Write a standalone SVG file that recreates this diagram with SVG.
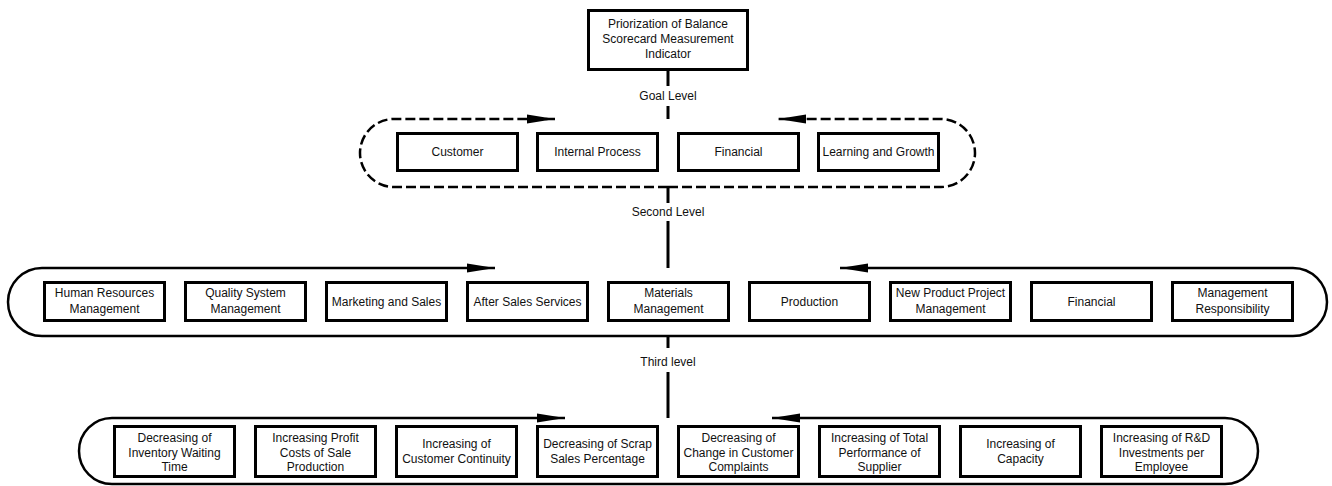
<svg xmlns="http://www.w3.org/2000/svg" width="1332" height="486" viewBox="0 0 1332 486">
<style>
.box{fill:#fff;stroke:#000;stroke-width:3}
.t{font-family:"Liberation Sans",Arial,sans-serif;font-size:12px;fill:#111;text-anchor:middle}
.ln{fill:none;stroke:#000;stroke-width:3}
.loop{fill:none;stroke:#000;stroke-width:2.5}
.dash{stroke-dasharray:10 4}
</style>
<defs>
<marker id="ah" markerUnits="userSpaceOnUse" markerWidth="30" markerHeight="10" refX="28" refY="5" orient="auto">
<path d="M0,0.5 L28,5 L0,9.5 z" fill="#000"/>
</marker>
</defs>
<rect width="1332" height="486" fill="#fff"/>
<g id="connectors">
<line class="ln" x1="668" y1="71" x2="668" y2="86"/>
<line class="ln" x1="668" y1="106" x2="668" y2="119"/>
<line class="ln" x1="668" y1="187" x2="668" y2="203"/>
<line class="ln" x1="668" y1="221" x2="668" y2="268"/>
<line class="ln" x1="668" y1="336" x2="668" y2="348"/>
<line class="ln" x1="668" y1="372" x2="668" y2="418"/>
<path class="loop dash" d="M668,187 H394 A34,34 0 0 1 394,119 H555" marker-end="url(#ah)"/>
<path class="loop dash" d="M668,187 H941 A34,34 0 0 0 941,119 H778" marker-end="url(#ah)"/>
<path class="loop" d="M668,336 H42 A34,34 0 0 1 42,268 H495" marker-end="url(#ah)"/>
<path class="loop" d="M668,336 H1293 A34,34 0 0 0 1293,268 H840" marker-end="url(#ah)"/>
<path class="loop" d="M668,484 H112 A33,33 0 0 1 112,418 H565" marker-end="url(#ah)"/>
<path class="loop" d="M668,484 H1225 A33,33 0 0 0 1225,418 H772" marker-end="url(#ah)"/>
<text class="t" x="668" y="100">Goal Level</text>
<text class="t" x="668" y="216">Second Level</text>
<text class="t" x="668" y="366">Third level</text>
</g>
<g id="top">
<rect class="box" x="588.5" y="10.5" width="159" height="59"/>
<text class="t" x="668" y="28">Priorization of Balance</text>
<text class="t" x="668" y="43">Scorecard Measurement</text>
<text class="t" x="668" y="57.5">Indicator</text>
</g>
<g id="g-customer"><rect class="box" x="397.5" y="133.5" width="120" height="37"/><text class="t" x="457.5" y="156">Customer</text></g>
<g id="g-internal"><rect class="box" x="537.5" y="133.5" width="120" height="37"/><text class="t" x="597.5" y="156">Internal Process</text></g>
<g id="g-financial"><rect class="box" x="678.5" y="133.5" width="120" height="37"/><text class="t" x="738.5" y="156">Financial</text></g>
<g id="g-learning"><rect class="box" x="818.5" y="133.5" width="120" height="37"/><text class="t" x="878.5" y="156">Learning and Growth</text></g>

<g id="s-hr"><rect class="box" x="44.5" y="282.5" width="120" height="38"/><text class="t" x="104.5" y="297">Human Resources</text><text class="t" x="104.5" y="313">Management</text></g>
<g id="s-quality"><rect class="box" x="185.5" y="282.5" width="120" height="38"/><text class="t" x="245.5" y="297">Quality System</text><text class="t" x="245.5" y="313">Management</text></g>
<g id="s-marketing"><rect class="box" x="326.5" y="282.5" width="120" height="38"/><text class="t" x="386.5" y="306">Marketing and Sales</text></g>
<g id="s-aftersales"><rect class="box" x="467.5" y="282.5" width="120" height="38"/><text class="t" x="527.5" y="306">After Sales Services</text></g>
<g id="s-materials"><rect class="box" x="608.5" y="282.5" width="120" height="38"/><text class="t" x="668.5" y="297">Materials</text><text class="t" x="668.5" y="313">Management</text></g>
<g id="s-production"><rect class="box" x="749.5" y="282.5" width="120" height="38"/><text class="t" x="809.5" y="306">Production</text></g>
<g id="s-newproduct"><rect class="box" x="890.5" y="282.5" width="120" height="38"/><text class="t" x="950.5" y="297">New Product Project</text><text class="t" x="950.5" y="313">Management</text></g>
<g id="s-financial"><rect class="box" x="1031.5" y="282.5" width="120" height="38"/><text class="t" x="1091.5" y="306">Financial</text></g>
<g id="s-mgmt"><rect class="box" x="1172.5" y="282.5" width="120" height="38"/><text class="t" x="1232.5" y="297">Management</text><text class="t" x="1232.5" y="313">Responsibility</text></g>

<g id="t-inventory"><rect class="box" x="114.5" y="426.5" width="120" height="50"/><text class="t" x="174.5" y="442">Decreasing of</text><text class="t" x="174.5" y="456.5">Inventory Waiting</text><text class="t" x="174.5" y="471">Time</text></g>
<g id="t-profit"><rect class="box" x="255.5" y="426.5" width="120" height="50"/><text class="t" x="315.5" y="442">Increasing Profit</text><text class="t" x="315.5" y="456.5">Costs of Sale</text><text class="t" x="315.5" y="471">Production</text></g>
<g id="t-continuity"><rect class="box" x="396.5" y="426.5" width="120" height="50"/><text class="t" x="456.5" y="448">Increasing of</text><text class="t" x="456.5" y="463">Customer Continuity</text></g>
<g id="t-scrap"><rect class="box" x="537.5" y="426.5" width="120" height="50"/><text class="t" x="597.5" y="448">Decreasing of Scrap</text><text class="t" x="597.5" y="463">Sales Percentage</text></g>
<g id="t-complaints"><rect class="box" x="678.5" y="426.5" width="120" height="50"/><text class="t" x="738.5" y="442">Decreasing of</text><text class="t" x="738.5" y="456.5">Change in Customer</text><text class="t" x="738.5" y="471">Complaints</text></g>
<g id="t-supplier"><rect class="box" x="819.5" y="426.5" width="120" height="50"/><text class="t" x="879.5" y="442">Increasing of Total</text><text class="t" x="879.5" y="456.5">Performance of</text><text class="t" x="879.5" y="471">Supplier</text></g>
<g id="t-capacity"><rect class="box" x="960.5" y="426.5" width="120" height="50"/><text class="t" x="1020.5" y="448">Increasing of</text><text class="t" x="1020.5" y="463">Capacity</text></g>
<g id="t-rnd"><rect class="box" x="1101.5" y="426.5" width="120" height="50"/><text class="t" x="1161.5" y="442">Increasing of R&amp;D</text><text class="t" x="1161.5" y="456.5">Investments per</text><text class="t" x="1161.5" y="471">Employee</text></g>
</svg>
